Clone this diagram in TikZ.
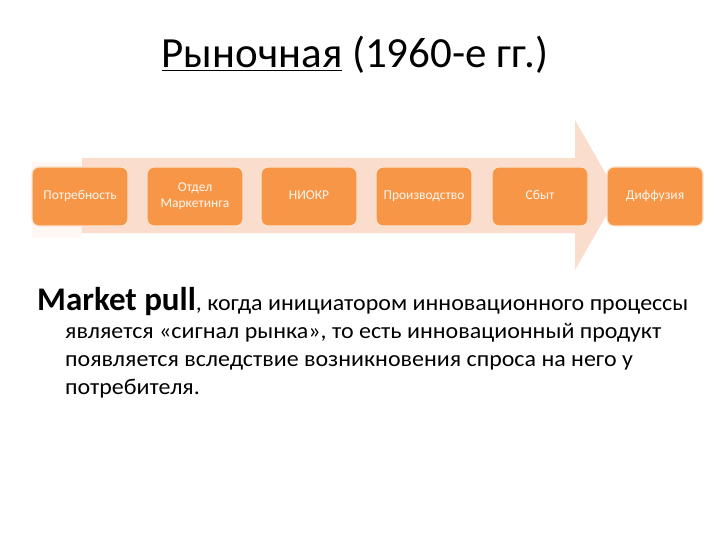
\documentclass[tikz,border=0pt]{standalone}
\usepackage{fontspec}
\setmainfont{Carlito}
\usetikzlibrary{positioning}

\definecolor{stageorange}{HTML}{F79646}
\definecolor{arrowpeach}{HTML}{FBDDCD}
\definecolor{stageedge}{HTML}{FDE3CF}

\newcommand{\widetext}[1]{\scalebox{1.065}[1]{#1}}

\tikzset{
  stage/.style={rounded corners=7pt, fill=stageorange, draw=stageedge, line width=1.2pt,
    minimum width=96pt, minimum height=59pt, align=center, text=white!92!stageorange,
    font=\fontsize{13.5}{15}\selectfont},
  onerow/.style={text height=9pt, text depth=3pt},
  bodyline/.style={anchor=base west, inner sep=0pt, font=\fontsize{22.5}{26}\selectfont}
}

\begin{document}
\begin{tikzpicture}[x=1pt, y=-1pt]
\useasboundingbox (0,0) rectangle (720,540);

% big background arrow
\fill[arrowpeach] (82,158) -- (575,158) -- (575,120) -- (618,195) -- (575,270) -- (575,233) -- (82,233) -- cycle;
\fill[arrowpeach!25] (32,162) rectangle (82,238);

% title
\node[anchor=base, inner sep=0pt, font=\fontsize{43}{48}\selectfont] (title) at (355,68)
  {\underline{Рыночная} (1960-е гг.)};

% stages
\node[stage, onerow] (need) at (80,196.5) {Потребность};
\node[stage] (mkt) at (195,196.5) {Отдел\\[1pt]Маркетинга};
\node[stage, onerow] (rnd) at (309,196.5) {НИОКР};
\node[stage, onerow] (prod) at (424,196.5) {Производство};
\node[stage, onerow] (sales) at (540,196.5) {Сбыт};
\node[stage, onerow] (diff) at (655,196.5) {Диффузия};

% description
\node[bodyline] (l1) at (37,310) {{\fontsize{33}{36}\selectfont\bfseries Market pull}\widetext{, когда инициатором инновационного процессы}};
\node[bodyline] (l2) at (65,338) {\widetext{является «сигнал рынка», то есть инновационный продукт}};
\node[bodyline] (l3) at (65,366) {\widetext{появляется вследствие возникновения спроса на него у}};
\node[bodyline] (l4) at (65,394) {\widetext{потребителя.}};

\end{tikzpicture}
\end{document}
